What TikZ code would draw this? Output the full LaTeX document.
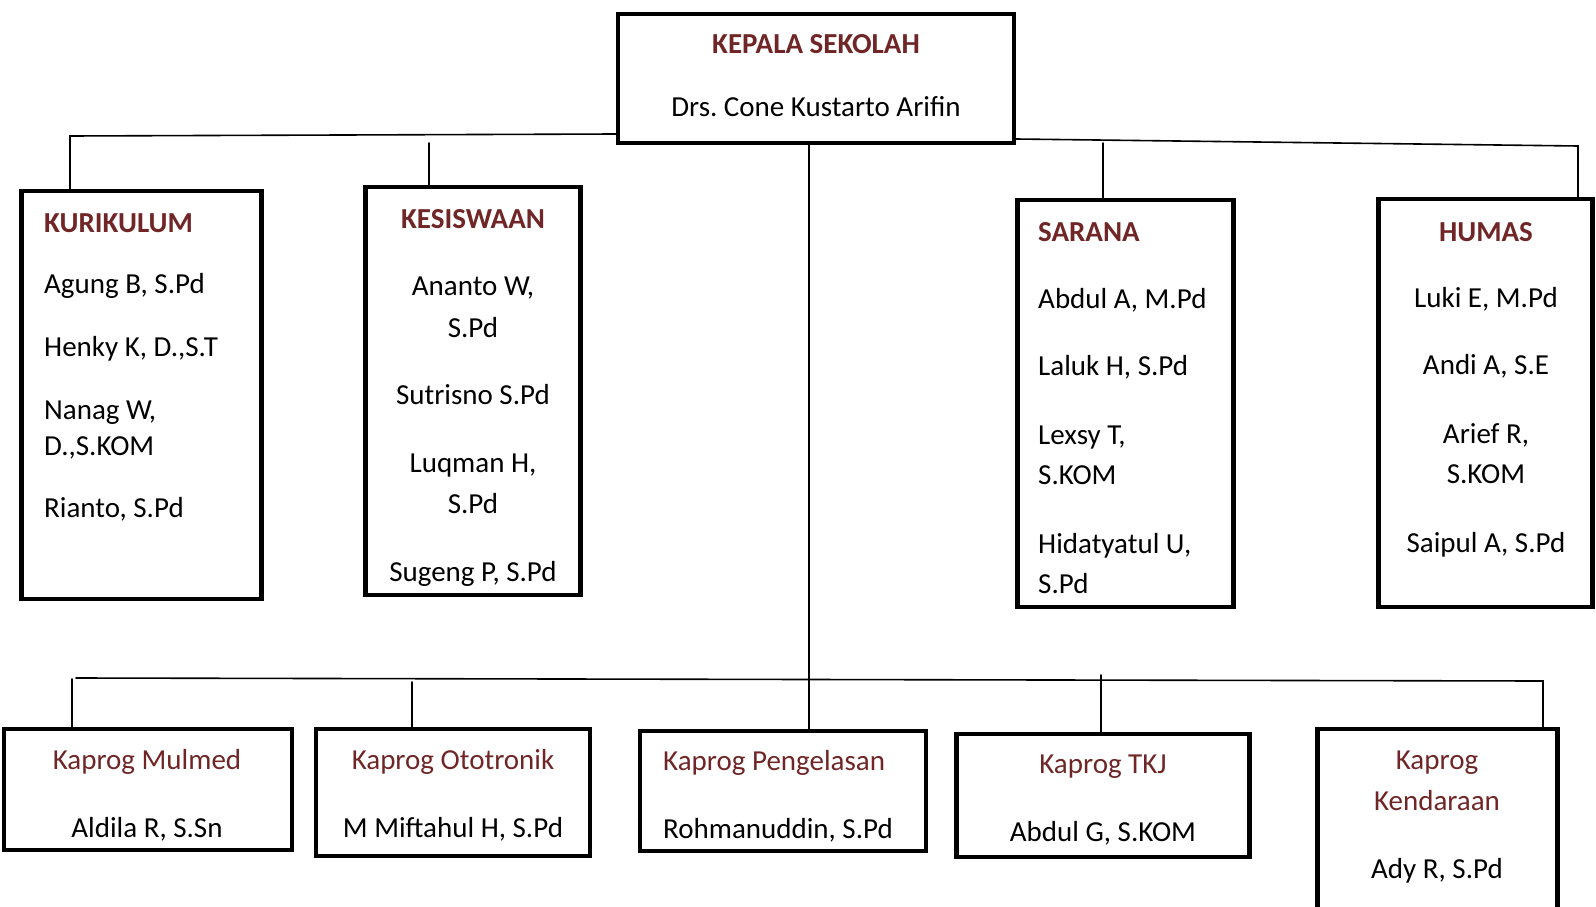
\documentclass[tikz,border=0pt]{standalone}
\usepackage{fontspec}
\setmainfont{Carlito}
\usepackage{tikz}
\usepackage{color}

\newcommand{\orgsize}{\fontsize{29}{35}\selectfont}
\frenchspacing

\begin{document}
\begin{tikzpicture}
			[x=1pt,y=-1pt,line cap=round,
			%Styles
			unit/.style={draw,line width=4.2pt,inner sep=0pt},
			link/.style={line width=1.6pt},
			head/.style={inner sep=0pt,font=\orgsize\bfseries,text=headred},
			prog/.style={inner sep=0pt,font=\orgsize,text=headred},
			staff/.style={inner sep=0pt,font=\orgsize}
			]
			
			%Colors
			\definecolor{headred}{RGB}{112,38,38}	%titles of the units
			
			\useasboundingbox (0,0) rectangle (1596,907);
			
			%The boxes
			\node[unit,minimum width=396,minimum height=129] (kep) at (816,78.5) {};
			\node[unit,minimum width=240,minimum height=408] (kur) at (141.5,395) {};
			\node[unit,minimum width=215,minimum height=408] (kes) at (473,391) {};
			\node[unit,minimum width=216,minimum height=407] (sar) at (1125.5,403.5) {};
			\node[unit,minimum width=214,minimum height=408] (hum) at (1485.5,403) {};
			\node[unit,minimum width=288,minimum height=121] (mul) at (148,789.5) {};
			\node[unit,minimum width=274,minimum height=127] (oto) at (453,792.5) {};
			\node[unit,minimum width=286,minimum height=120] (pen) at (783,791) {};
			\node[unit,minimum width=293,minimum height=123] (tkj) at (1103,795.5) {};
			\node[unit,minimum width=240,minimum height=199] (ken) at (1437.5,828.5) {};
			
			%Kepala sekolah
			\node[head,anchor=base] (kepT) at (816,54) {KEPALA SEKOLAH};
			\node[staff,anchor=base] (kep1) at (816,116) {Drs. Cone Kustarto Arifin};
			
			%Kurikulum
			\node[head,anchor=base west] (kurT) at (44,232) {KURIKULUM};
			\node[staff,anchor=base west] (kur1) at (44,293) {Agung B, S.Pd};
			\node[staff,anchor=base west] (kur2) at (44,356) {Henky K, D.,S.T};
			\node[staff,anchor=base west] (kur3) at (44,419) {Nanag W,};
			\node[staff,anchor=base west] (kur4) at (44,455) {D.,S.KOM};
			\node[staff,anchor=base west] (kur5) at (44,517) {Rianto, S.Pd};
			
			%Kesiswaan
			\node[head,anchor=base] (kesT) at (473,228) {KESISWAAN};
			\node[staff,anchor=base] (kes1) at (473,295) {Ananto W,};
			\node[staff,anchor=base] (kes2) at (473,337) {S.Pd};
			\node[staff,anchor=base] (kes3) at (473,404) {Sutrisno S.Pd};
			\node[staff,anchor=base] (kes4) at (473,472) {Luqman H,};
			\node[staff,anchor=base] (kes5) at (473,513) {S.Pd};
			\node[staff,anchor=base] (kes6) at (473,581) {Sugeng P, S.Pd};
			
			%Sarana
			\node[head,anchor=base west] (sarT) at (1038,241) {SARANA};
			\node[staff,anchor=base west] (sar1) at (1038,308) {Abdul A, M.Pd};
			\node[staff,anchor=base west] (sar2) at (1038,375) {Laluk H, S.Pd};
			\node[staff,anchor=base west] (sar3) at (1038,444) {Lexsy T,};
			\node[staff,anchor=base west] (sar4) at (1038,484) {S.KOM};
			\node[staff,anchor=base west] (sar5) at (1038,553) {Hidatyatul U,};
			\node[staff,anchor=base west] (sar6) at (1038,593) {S.Pd};
			
			%Humas
			\node[head,anchor=base] (humT) at (1486,241) {HUMAS};
			\node[staff,anchor=base] (hum1) at (1486,307) {Luki E, M.Pd};
			\node[staff,anchor=base] (hum2) at (1486,374) {Andi A, S.E};
			\node[staff,anchor=base] (hum3) at (1486,443) {Arief R,};
			\node[staff,anchor=base] (hum4) at (1486,483) {S.KOM};
			\node[staff,anchor=base] (hum5) at (1486,552) {Saipul A, S.Pd};
			
			%Kaprog
			\node[prog,anchor=base] (mulT) at (147,769) {Kaprog Mulmed};
			\node[staff,anchor=base] (mul1) at (147,837) {Aldila R, S.Sn};
			\node[prog,anchor=base] (otoT) at (453,769) {Kaprog Ototronik};
			\node[staff,anchor=base] (oto1) at (453,837) {M Miftahul H, S.Pd};
			\node[prog,anchor=base west] (penT) at (663,770) {Kaprog Pengelasan};
			\node[staff,anchor=base west] (pen1) at (663,838) {Rohmanuddin, S.Pd};
			\node[prog,anchor=base] (tkjT) at (1103,773) {Kaprog TKJ};
			\node[staff,anchor=base] (tkj1) at (1103,841) {Abdul G, S.KOM};
			\node[prog,anchor=base] (kenT) at (1437,769) {Kaprog};
			\node[prog,anchor=base] (kenT2) at (1437,810) {Kendaraan};
			\node[staff,anchor=base] (ken1) at (1437,878) {Ady R, S.Pd};
			
			%The lines
			\coordinate (busL) at (70,136);
			\coordinate (busR) at (1578,146);
			\coordinate (kesTop) at (429,143);
			\coordinate (sarTop) at (1103,143);
			\coordinate (trunk) at (809,145);
			\coordinate (busBL) at (76,678);
			\coordinate (busBR) at (1543,681);
			
			\draw[link] (kep.west |- 0,134) -- (busL) -- (busL |- kur.north);
			\draw[link] (kesTop) -- (kesTop |- kes.north);
			\draw[link] (kep.east |- 0,139) -- (busR) -- (busR |- hum.north);
			\draw[link] (sarTop) -- (sarTop |- sar.north);
			\draw[link] (trunk) -- (trunk |- pen.north);
			\draw[link] (busBL) -- (busBR) -- (busBR |- ken.north);
			\draw[link] (72,679) -- (72,679 |- mul.north);
			\draw[link] (412,682) -- (412,682 |- oto.north);
			\draw[link] (1101,675) -- (1101,675 |- tkj.north);
		\end{tikzpicture}
\end{document}
